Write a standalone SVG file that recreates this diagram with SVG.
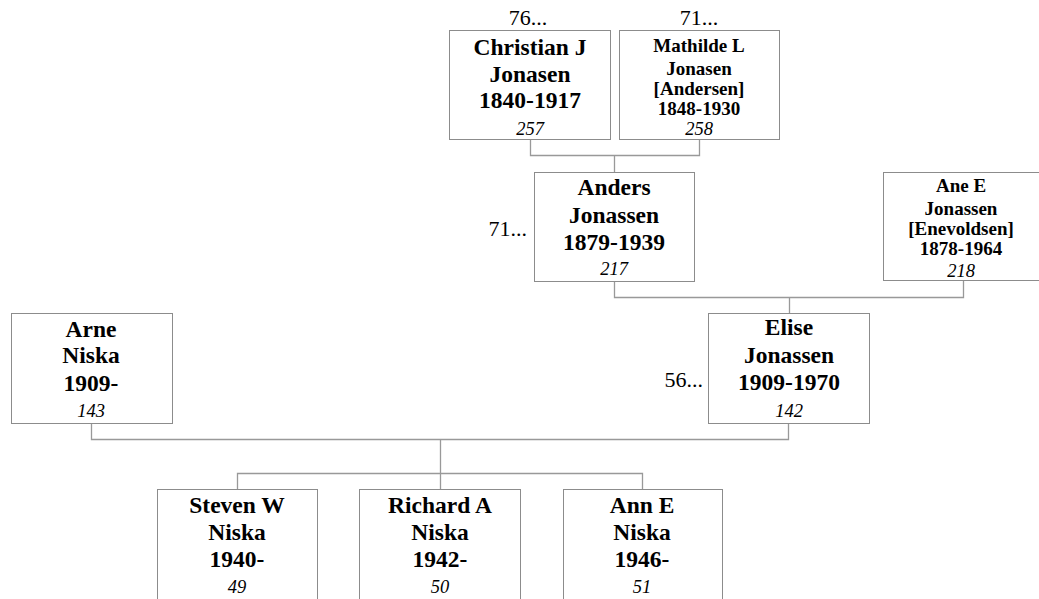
<svg xmlns="http://www.w3.org/2000/svg" width="1039" height="599" viewBox="0 0 1039 599">
<style>
.box{fill:#fff;stroke:#8c8c8c;stroke-width:1}
.ln{fill:none;stroke:#999;stroke-width:1.3}
.b{font-family:"Liberation Serif","Times New Roman",serif;font-weight:bold;font-size:23.5px;text-anchor:middle;fill:#000}
.s{font-family:"Liberation Serif","Times New Roman",serif;font-weight:bold;font-size:19px;text-anchor:middle;fill:#000}
.i{font-family:"Liberation Serif","Times New Roman",serif;font-style:italic;font-size:18.5px;text-anchor:middle;fill:#000}
.r{font-family:"Liberation Serif","Times New Roman",serif;font-size:22px;fill:#000}
</style>
<rect width="1039" height="599" fill="#fff"/>
<g id="connectors">
<path class="ln" d="M530.5,139 V155.5 H699.5 V139 M614.5,155.5 V172"/>
<path class="ln" d="M614.5,281 V297.5 H963.5 V280 M789.5,297.5 V313"/>
<path class="ln" d="M91.5,423 V439.5 H788.5 V423 M440.5,439.5 V473.5 M237.5,489 V473.5 H642.5 V489 M440.5,473.5 V489"/>
</g>
<g id="christian">
<rect class="box" x="449.5" y="30.5" width="161" height="109"/>
<text class="r" x="528" y="25" text-anchor="middle">76...</text>
<text class="b" x="530" y="55">Christian J</text>
<text class="b" x="530" y="82">Jonasen</text>
<text class="b" x="530" y="108">1840-1917</text>
<text class="i" x="530" y="135">257</text>
</g>
<g id="mathilde">
<rect class="box" x="619.5" y="30.5" width="160" height="109"/>
<text class="r" x="699" y="25" text-anchor="middle">71...</text>
<text class="s" x="699" y="52">Mathilde L</text>
<text class="s" x="699" y="75">Jonasen</text>
<text class="s" x="699" y="95">[Andersen]</text>
<text class="s" x="699" y="115">1848-1930</text>
<text class="i" x="699" y="135">258</text>
</g>
<g id="anders">
<rect class="box" x="534.5" y="172.5" width="160" height="109"/>
<text class="r" x="527" y="236" text-anchor="end">71...</text>
<text class="b" x="614" y="195">Anders</text>
<text class="b" x="614" y="223">Jonassen</text>
<text class="b" x="614" y="250">1879-1939</text>
<text class="i" x="614" y="275">217</text>
</g>
<g id="ane">
<rect class="box" x="883.5" y="172.5" width="161" height="108"/>
<text class="s" x="961" y="192">Ane E</text>
<text class="s" x="961" y="215">Jonassen</text>
<text class="s" x="961" y="235">[Enevoldsen]</text>
<text class="s" x="961" y="255">1878-1964</text>
<text class="i" x="961" y="277">218</text>
</g>
<g id="arne">
<rect class="box" x="11.5" y="313.5" width="161" height="110"/>
<text class="b" x="91" y="337">Arne</text>
<text class="b" x="91" y="363">Niska</text>
<text class="b" x="91" y="391">1909-</text>
<text class="i" x="91" y="417">143</text>
</g>
<g id="elise">
<rect class="box" x="708.5" y="313.5" width="161" height="110"/>
<text class="r" x="703" y="387" text-anchor="end">56...</text>
<text class="b" x="789" y="335">Elise</text>
<text class="b" x="789" y="363">Jonassen</text>
<text class="b" x="789" y="390">1909-1970</text>
<text class="i" x="789" y="417">142</text>
</g>
<g id="steven">
<rect class="box" x="157.5" y="489.5" width="160" height="110"/>
<text class="b" x="237" y="513">Steven W</text>
<text class="b" x="237" y="540">Niska</text>
<text class="b" x="237" y="567">1940-</text>
<text class="i" x="237" y="593">49</text>
</g>
<g id="richard">
<rect class="box" x="359.5" y="489.5" width="161" height="110"/>
<text class="b" x="440" y="513">Richard A</text>
<text class="b" x="440" y="540">Niska</text>
<text class="b" x="440" y="567">1942-</text>
<text class="i" x="440" y="593">50</text>
</g>
<g id="ann">
<rect class="box" x="563.5" y="489.5" width="159" height="110"/>
<text class="b" x="642" y="513">Ann E</text>
<text class="b" x="642" y="540">Niska</text>
<text class="b" x="642" y="567">1946-</text>
<text class="i" x="642" y="593">51</text>
</g>
</svg>
